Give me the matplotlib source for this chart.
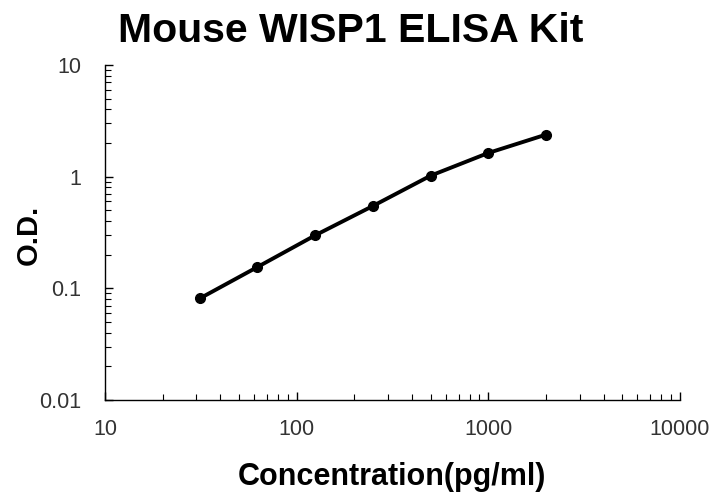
import matplotlib
matplotlib.use("Agg")
import matplotlib.pyplot as plt
from matplotlib.ticker import LogLocator, FixedLocator, FixedFormatter, NullFormatter

plt.rcParams["font.family"] = ["Liberation Sans", "DejaVu Sans"]

# standard curve
concentracao = [31.25, 62.5, 125, 250, 500, 1000, 2000]
od = [0.081, 0.155, 0.298, 0.546, 1.02, 1.63, 2.38]

x_ticks = [10, 100, 1000, 10000]
x_labels = ["10", "100", "1000", "10000"]
y_ticks = [0.01, 0.1, 1, 10]
y_labels = ["0.01", "0.1", "1", "10"]

fig = plt.figure(figsize=(7.09, 4.93), dpi=100)
ax = fig.add_axes([0.148, 0.189, 0.811, 0.679])

ax.plot(concentracao, od, color="black", linewidth=2.8, marker="o", markersize=7)

ax.set_xscale("log")
ax.set_yscale("log")
ax.set_xlim(10, 10000)
ax.set_ylim(0.01, 10)

ax.xaxis.set_major_locator(FixedLocator(x_ticks))
ax.xaxis.set_major_formatter(FixedFormatter(x_labels))
ax.yaxis.set_major_locator(FixedLocator(y_ticks))
ax.yaxis.set_major_formatter(FixedFormatter(y_labels))
ax.xaxis.set_minor_locator(LogLocator(base=10, subs=range(2, 10), numticks=20))
ax.yaxis.set_minor_locator(LogLocator(base=10, subs=range(2, 10), numticks=20))
ax.xaxis.set_minor_formatter(NullFormatter())
ax.yaxis.set_minor_formatter(NullFormatter())

ax.spines["top"].set_visible(False)
ax.spines["right"].set_visible(False)
for s in ["left", "bottom"]:
    ax.spines[s].set_linewidth(1.0)

ax.tick_params(axis="both", which="major", direction="in", length=6, width=1,
               labelsize=15.5, labelcolor="#333333")
ax.tick_params(axis="both", which="minor", direction="in", length=4, width=0.8)
ax.tick_params(axis="x", which="major", pad=14)
ax.tick_params(axis="y", which="major", pad=17)

ax.set_xlabel("Concentration(pg/ml)", fontsize=22, fontweight="bold", labelpad=16)
ax.set_ylabel("O.D.", fontsize=21, fontweight="bold")
ax.yaxis.set_label_coords(-0.108, 0.4925)
fig.suptitle("Mouse WISP1 ELISA Kit", fontsize=29.5, fontweight="bold",
             x=0.494, y=0.975, va="top")

plt.savefig("out.png", dpi=100)
